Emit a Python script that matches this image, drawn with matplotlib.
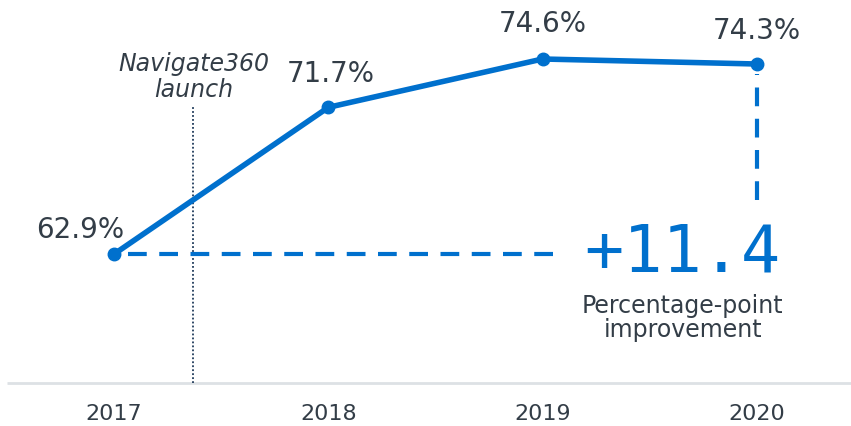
"""Four-year completion trend with the Navigate360 launch marker."""
import matplotlib
matplotlib.use("Agg")
import matplotlib.pyplot as plt

years = [2017, 2018, 2019, 2020]
rates = [62.9, 71.7, 74.6, 74.3]
rate_labels = ["62.9%", "71.7%", "74.6%", "74.3%"]
launch_year = 2017.37
gain = rates[-1] - rates[0]

BLUE = "#0070CD"
INK = "#333D47"

fig = plt.figure(figsize=(8.51, 4.26), dpi=100)
ax = fig.add_axes([0, 0, 1, 1])
ax.set_xlim(2016.467, 2020.44)
ax.set_ylim(52.58, 78.14)
ax.axis("off")

# baseline axis
base = 55.16
ax.plot([2016.5, 2020.44], [base, base], color="#DDE1E5", lw=2, solid_capstyle="butt")
for yr in years:
    ax.text(yr, 53.28, str(yr), ha="center", va="center", fontsize=16, color=INK)

# launch marker
ax.plot([launch_year, launch_year], [base, 71.85], color="#1F3A5A", lw=1.3, ls=(0, (1, 1.2)))
ax.text(launch_year, 73.5, "Navigate360\nlaunch", ha="center", va="center",
        fontsize=17, style="italic", color=INK, linespacing=1.1)

# gain guides
ax.plot([2017.065, 2019.1], [rates[0], rates[0]], color=BLUE, lw=3, ls=(0, (4.5, 3)))
ax.plot([2020, 2020], [66.14, rates[-1] - 0.6], color=BLUE, lw=3, ls=(0, (4.5, 3)))

# main series
ax.plot(years, rates, color=BLUE, lw=4, marker="o", ms=9, solid_capstyle="round")
offsets = [(-0.16, 1.45), (0.01, 2.0), (0.0, 2.1), (0.0, 2.0)]
for yr, r, lab, (dx, dy) in zip(years, rates, rate_labels, offsets):
    ax.text(yr + dx, r + dy, lab, ha="center", va="center", fontsize=20, color=INK)

ax.text(2019.655, 61.82, f"+{gain:.1f}", ha="center", va="baseline", fontsize=47,
        family="DejaVu Sans Mono", color=BLUE)
ax.text(2019.655, 59.05, "Percentage-point\nimprovement", ha="center", va="center",
        fontsize=17, color=INK, linespacing=1.0)

fig.savefig("out.png", dpi=100)
